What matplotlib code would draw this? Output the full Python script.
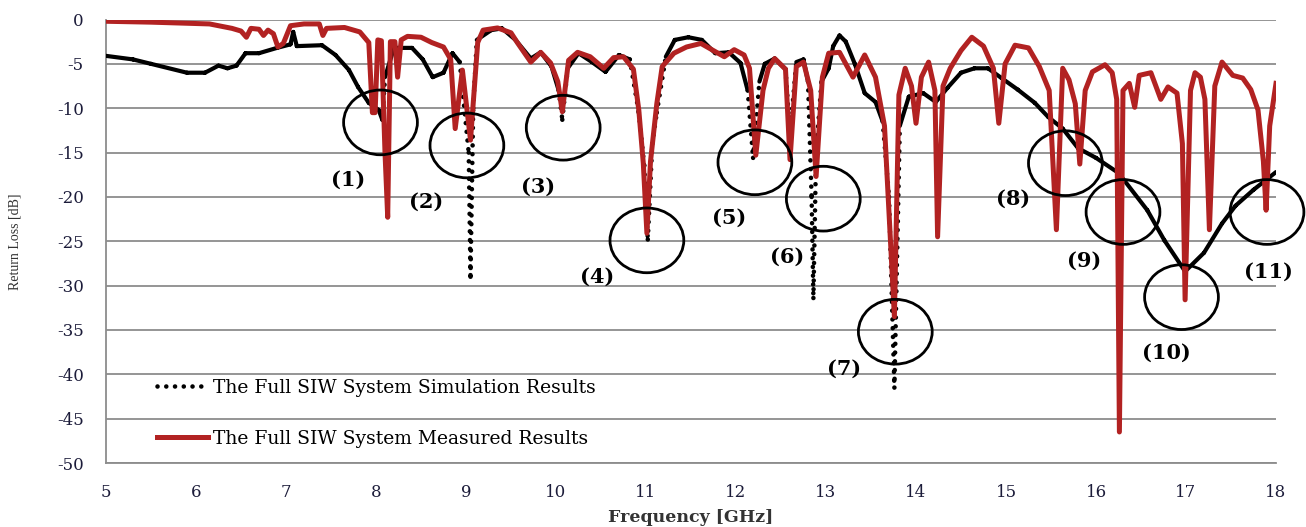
import numpy as np
import matplotlib
matplotlib.use("Agg")
import matplotlib.pyplot as plt
from matplotlib.patches import Ellipse
from matplotlib.lines import Line2D

plt.rcParams["axes.unicode_minus"] = False

# Full SIW system, simulated return loss (GHz, dB)
sim_freq = [5.00, 5.30, 5.50, 5.90, 6.10, 6.25, 6.35, 6.45, 6.55, 6.70, 6.90, 7.05,
            7.08, 7.12, 7.40, 7.55, 7.70, 7.80, 7.92, 8.03, 8.07, 8.10, 8.20, 8.40,
            8.52, 8.63, 8.75, 8.85, 8.93, 9.03, 9.05, 9.08, 9.12, 9.28, 9.40, 9.55,
            9.72, 9.83, 9.95, 10.03, 10.07, 10.13, 10.25, 10.40, 10.55, 10.70, 10.82,
            10.92, 10.98, 11.02, 11.07, 11.12, 11.22, 11.32, 11.47, 11.62, 11.77,
            11.92, 12.05, 12.13, 12.19, 12.26, 12.32, 12.43, 12.55, 12.60, 12.67,
            12.75, 12.80, 12.84, 12.86, 12.89, 12.95, 13.03, 13.08, 13.15, 13.22,
            13.32, 13.43, 13.55, 13.63, 13.70, 13.76, 13.82, 13.92, 14.08, 14.22,
            14.35, 14.50, 14.65, 14.80, 14.95, 15.13, 15.32, 15.47, 15.63, 15.80,
            16.00, 16.25, 16.57, 16.76, 16.99, 17.20, 17.40, 17.55, 17.75, 18.00]
sim_rl = [-4.1, -4.5, -5.0, -6.0, -6.0, -5.2, -5.5, -5.2, -3.8, -3.8, -3.2, -2.8,
          -1.4, -3.0, -2.9, -4.0, -5.7, -7.6, -9.4, -10.2, -11.3, -6.5, -3.2, -3.2,
          -4.5, -6.5, -6.0, -3.8, -4.8, -15.0, -29.0, -10.0, -2.3, -1.2, -1.0, -2.3,
          -4.4, -3.7, -5.3, -8.0, -11.3, -5.5, -3.8, -4.8, -5.9, -4.0, -4.5,
          -10.5, -16.5, -24.8, -14.0, -10.5, -4.2, -2.3, -2.0, -2.3, -3.8,
          -3.7, -4.9, -8.0, -15.6, -7.0, -5.0, -4.4, -5.6, -13.0, -4.8,
          -4.5, -7.0, -20.0, -31.4, -15.0, -7.0, -5.5, -3.0, -1.8, -2.5,
          -5.0, -8.3, -9.3, -11.5, -20.0, -41.5, -12.0, -8.7, -8.3, -9.3,
          -7.7, -6.0, -5.5, -5.5, -6.6, -7.9, -9.4, -11.0, -12.3, -14.5,
          -15.6, -17.3, -21.5, -24.9, -28.4, -26.3, -23.0, -21.0, -19.2, -17.2]

# Full SIW system, measured return loss (GHz, dB)
meas_freq = [5.00, 5.50, 6.15, 6.40, 6.50, 6.56, 6.61, 6.70, 6.75, 6.80, 6.86, 6.91,
             6.97, 7.05, 7.20, 7.37, 7.41, 7.45, 7.65, 7.82, 7.92, 7.96, 7.99, 8.02,
             8.06, 8.10, 8.13, 8.16, 8.21, 8.24, 8.28, 8.35, 8.50, 8.62, 8.75, 8.83,
             8.88, 8.96, 9.05, 9.13, 9.19, 9.35, 9.50, 9.57, 9.72, 9.83, 9.94, 10.02,
             10.07, 10.14, 10.24, 10.38, 10.53, 10.64, 10.75, 10.86, 10.92, 10.97,
             11.01, 11.05, 11.12, 11.18, 11.31, 11.45, 11.61, 11.80, 11.87, 11.98,
             12.09, 12.15, 12.22, 12.30, 12.36, 12.43, 12.55, 12.60, 12.67, 12.75,
             12.83, 12.89, 12.96, 13.03, 13.15, 13.30, 13.43, 13.55, 13.65, 13.76,
             13.81, 13.88, 13.95, 14.00, 14.06, 14.14, 14.21, 14.24, 14.30, 14.38,
             14.50, 14.62, 14.75, 14.86, 14.92, 14.99, 15.10, 15.25, 15.37, 15.48,
             15.56, 15.63, 15.70, 15.77, 15.82, 15.88, 15.96, 16.10, 16.18, 16.23,
             16.26, 16.30, 16.37, 16.43, 16.48, 16.61, 16.72, 16.80, 16.90, 16.96,
             16.99, 17.05, 17.10, 17.16, 17.21, 17.26, 17.32, 17.40, 17.52, 17.63,
             17.72, 17.80, 17.86, 17.89, 17.93, 18.00]
meas_rl = [-0.2, -0.3, -0.5, -1.0, -1.3, -2.0, -1.0, -1.1, -1.8, -1.2, -1.6, -3.1,
           -2.7, -0.7, -0.5, -0.5, -1.8, -1.0, -0.9, -1.4, -2.6, -10.5, -10.5, -2.3,
           -2.4, -15.0, -22.3, -2.5, -2.5, -6.5, -2.3, -1.9, -2.0, -2.6, -3.1, -4.5,
           -12.3, -5.7, -13.6, -2.6, -1.2, -0.95, -1.5, -2.6, -4.8, -3.7, -4.9, -7.0,
           -10.4, -4.6, -3.7, -4.2, -5.5, -4.3, -4.2, -5.6, -10.2, -16.2,
           -24.1, -16.0, -9.5, -5.3, -3.8, -3.1, -2.7, -3.8, -4.2, -3.4,
           -4.0, -5.5, -15.3, -8.0, -5.5, -4.4, -5.6, -15.8, -5.3, -4.8,
           -8.0, -17.7, -6.5, -3.8, -3.7, -6.5, -4.0, -6.5, -12.0, -33.5,
           -8.5, -5.5, -7.5, -11.7, -6.5, -4.8, -8.0, -24.5, -7.5, -5.5,
           -3.5, -2.0, -3.0, -5.5, -11.7, -5.0, -2.9, -3.2, -5.3, -8.0,
           -23.7, -5.5, -6.8, -9.5, -16.3, -8.0, -5.9, -5.1, -6.0, -9.0,
           -46.5, -8.0, -7.2, -9.9, -6.3, -6.0, -9.0, -7.6, -8.3, -14.0,
           -31.6, -8.0, -6.0, -6.5, -9.0, -23.7, -7.5, -4.8, -6.3, -6.6,
           -7.9, -10.2, -16.0, -21.5, -12.0, -7.2]

# Resonance markers
marker_labels = ["(1)", "(2)", "(3)", "(4)", "(5)", "(6)", "(7)", "(8)", "(9)", "(10)", "(11)"]
circle_freq = [8.05, 9.01, 10.08, 11.01, 12.21, 12.97, 13.77, 15.66, 16.30, 16.95, 17.90]
circle_rl = [-11.6, -14.2, -12.2, -24.9, -16.1, -20.2, -35.2, -16.2, -21.7, -31.3, -21.7]
label_freq = [7.69, 8.56, 9.80, 10.46, 11.92, 12.57, 13.20, 15.08, 15.87, 16.78, 17.92]
label_rl = [-18.1, -20.5, -18.9, -29.0, -22.3, -26.8, -39.4, -20.2, -27.2, -37.6, -28.4]

sim_label = "The Full SIW System Simulation Results"
meas_label = "The Full SIW System Measured Results"

RED = "#b22222"
GRID = "#8c8c8c"
TICK = "#1c1c3a"
DOTS = (0, (0.01, 1.9))

fig = plt.figure(figsize=(13.06, 5.27), dpi=100)
ax = fig.add_axes([106 / 1306, 1 - 463 / 527, (1276 - 106) / 1306, (463 - 19.5) / 527])
ax.set_xlim(5, 18)
ax.set_ylim(-50, 0)
ax.set_xticks(range(5, 19))
ax.set_yticks(range(-50, 1, 5))
ax.yaxis.grid(True, color=GRID, lw=1.3)
ax.set_axisbelow(True)
for side in ("top", "right"):
    ax.spines[side].set_visible(False)
for side in ("left", "bottom"):
    ax.spines[side].set_color(GRID)
    ax.spines[side].set_linewidth(1.3)
ax.tick_params(length=0, labelsize=12, labelcolor=TICK)
ax.tick_params(axis="y", pad=16)
ax.tick_params(axis="x", pad=15)
for lab in ax.get_xticklabels() + ax.get_yticklabels():
    lab.set_family("DejaVu Serif")

# Simulation trace: gentle segments solid, sharp resonance drops as dots
sx = np.array(sim_freq)
sy = np.array(sim_rl)
slope = np.abs(np.diff(sy) / np.diff(sx))
steep = slope > 60
solid_x, solid_y, dot_x, dot_y = [], [], [], []
for i in range(len(sx) - 1):
    tx, ty = (dot_x, dot_y) if steep[i] else (solid_x, solid_y)
    tx.extend([sx[i], sx[i + 1], np.nan])
    ty.extend([sy[i], sy[i + 1], np.nan])
ax.plot(solid_x, solid_y, color="black", lw=3.0, solid_capstyle="round", solid_joinstyle="round", zorder=3)
ax.plot(dot_x, dot_y, color="black", lw=3.3, linestyle=DOTS, dash_capstyle="round", zorder=3)

# Measured trace
ax.plot(meas_freq, meas_rl, color=RED, lw=3.6, solid_joinstyle="round", zorder=4)

# Circled resonances and their numbers
for cf, cr in zip(circle_freq, circle_rl):
    ax.add_patch(Ellipse((cf, cr), width=0.82, height=7.3, fill=False, ec="black", lw=2.0,
                         zorder=5, clip_on=False))
for txt, lf, lr in zip(marker_labels, label_freq, label_rl):
    ax.text(lf, lr, txt, ha="center", va="center", fontsize=15, fontweight="bold",
            family="DejaVu Serif", color="black", zorder=6)

handles = [Line2D([], [], color="black", lw=3.3, linestyle=DOTS, dash_capstyle="round"),
           Line2D([], [], color=RED, lw=3.6)]
ax.legend(handles, [sim_label, meas_label], loc="upper left", bbox_to_anchor=(0.0436, 0.19),
          frameon=False, borderpad=0, borderaxespad=0, handlelength=2.7, handletextpad=0.3,
          labelspacing=1.75, prop={"family": "DejaVu Serif", "size": 13.5})

ax.set_ylabel("Return Loss [dB]", family="Liberation Serif", fontsize=10, color="#333333")
ax.set_xlabel("Frequency [GHz]", family="DejaVu Serif", fontsize=12.5, fontweight="bold",
              color="#333333", labelpad=6)
ax.yaxis.set_label_coords(-0.072, 0.5)

fig.savefig("out.png", dpi=100)
